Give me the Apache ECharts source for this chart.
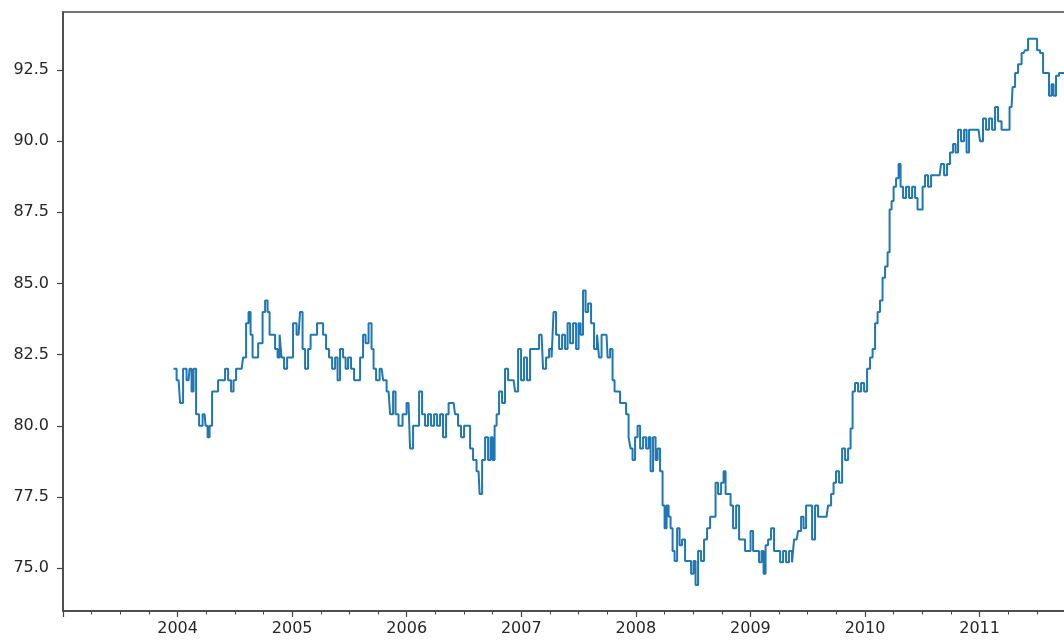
<!DOCTYPE html>
<html>
<head>
<meta charset="utf-8">
<script src="https://cdn.jsdelivr.net/npm/echarts@6/dist/echarts.min.js"></script>
<style>
  html, body { margin: 0; padding: 0; background: #fff; }
  #main { width: 1064px; height: 640px; }
</style>
</head>
<body>
<div id="main"></div>
<script>
// decimal year of each reading
var years = [
  2003.965, 2003.974, 2004.009, 2004.035, 2004.061, 2004.096, 2004.113, 2004.131, 2004.148, 2004.175,
  2004.201, 2004.236, 2004.253, 2004.271, 2004.288, 2004.314, 2004.340, 2004.367, 2004.401, 2004.428,
  2004.454, 2004.480, 2004.497, 2004.524, 2004.559, 2004.585, 2004.611, 2004.628, 2004.646, 2004.663,
  2004.690, 2004.716, 2004.733, 2004.751, 2004.777, 2004.794, 2004.812, 2004.838, 2004.864, 2004.882,
  2004.899, 2004.916, 2004.943, 2004.969, 2004.995, 2005.021, 2005.056, 2005.082, 2005.100, 2005.126,
  2005.152, 2005.170, 2005.204, 2005.231, 2005.257, 2005.283, 2005.309, 2005.335, 2005.362, 2005.388,
  2005.405, 2005.431, 2005.458, 2005.475, 2005.501, 2005.527, 2005.554, 2005.580, 2005.606, 2005.632,
  2005.650, 2005.684, 2005.702, 2005.719, 2005.746, 2005.781, 2005.807, 2005.842, 2005.868, 2005.894,
  2005.911, 2005.946, 2005.981, 2006.016, 2006.042, 2006.069, 2006.095, 2006.121, 2006.147, 2006.173,
  2006.199, 2006.226, 2006.252, 2006.278, 2006.304, 2006.330, 2006.357, 2006.374, 2006.409, 2006.435,
  2006.461, 2006.487, 2006.514, 2006.540, 2006.566, 2006.592, 2006.627, 2006.645, 2006.671, 2006.697,
  2006.723, 2006.741, 2006.758, 2006.776, 2006.793, 2006.819, 2006.845, 2006.871, 2006.898, 2006.933,
  2006.959, 2006.985, 2007.011, 2007.037, 2007.063, 2007.090, 2007.133, 2007.177, 2007.203, 2007.229,
  2007.256, 2007.273, 2007.290, 2007.317, 2007.343, 2007.369, 2007.395, 2007.413, 2007.439, 2007.465,
  2007.491, 2007.509, 2007.526, 2007.552, 2007.570, 2007.596, 2007.622, 2007.648, 2007.674, 2007.683,
  2007.718, 2007.744, 2007.762, 2007.788, 2007.805, 2007.823, 2007.849, 2007.875, 2007.901, 2007.928,
  2007.945, 2007.962, 2007.980, 2008.006, 2008.024, 2008.050, 2008.076, 2008.102, 2008.120, 2008.137,
  2008.163, 2008.181, 2008.198, 2008.224, 2008.242, 2008.259, 2008.277, 2008.294, 2008.312, 2008.329,
  2008.347, 2008.373, 2008.390, 2008.416, 2008.443, 2008.469, 2008.495, 2008.512, 2008.530, 2008.556,
  2008.582, 2008.608, 2008.635, 2008.661, 2008.687, 2008.704, 2008.731, 2008.757, 2008.774, 2008.792,
  2008.818, 2008.835, 2008.862, 2008.888, 2008.914, 2008.940, 2008.966, 2008.992, 2009.010, 2009.036,
  2009.062, 2009.088, 2009.106, 2009.123, 2009.141, 2009.167, 2009.193, 2009.219, 2009.246, 2009.272,
  2009.298, 2009.324, 2009.350, 2009.376, 2009.385, 2009.403, 2009.429, 2009.455, 2009.472, 2009.499,
  2009.525, 2009.551, 2009.577, 2009.603, 2009.638, 2009.664, 2009.691, 2009.717, 2009.734, 2009.760,
  2009.787, 2009.813, 2009.839, 2009.865, 2009.883, 2009.900, 2009.926, 2009.953, 2009.979, 2010.005,
  2010.031, 2010.057, 2010.075, 2010.101, 2010.118, 2010.144, 2010.162, 2010.188, 2010.206, 2010.223,
  2010.241, 2010.258, 2010.284, 2010.302, 2010.319, 2010.345, 2010.371, 2010.398, 2010.424, 2010.450,
  2010.467, 2010.494, 2010.511, 2010.537, 2010.563, 2010.590, 2010.625, 2010.651, 2010.677, 2010.703,
  2010.729, 2010.755, 2010.782, 2010.799, 2010.825, 2010.851, 2010.878, 2010.895, 2010.921, 2010.956,
  2010.991, 2011.017, 2011.043, 2011.070, 2011.096, 2011.122, 2011.148, 2011.174, 2011.209, 2011.244,
  2011.279, 2011.297, 2011.323, 2011.349, 2011.384, 2011.410, 2011.436, 2011.462, 2011.489, 2011.515,
  2011.541, 2011.567, 2011.593, 2011.619, 2011.637, 2011.654, 2011.680, 2011.707, 2011.733, 2011.760,
  2011.790
];

// index value
var values = [
  82.0, 82.0, 81.6, 80.8, 82.0, 81.6, 82.0, 81.2, 82.0, 80.4,
  80.0, 80.4, 80.0, 79.6, 80.0, 81.2, 81.2, 81.6, 81.6, 82.0,
  81.6, 81.2, 81.6, 82.0, 82.0, 82.4, 83.6, 84.0, 83.2, 82.4,
  82.4, 82.9, 82.9, 84.0, 84.4, 84.0, 83.2, 83.2, 82.7, 82.4,
  83.2, 82.4, 82.0, 82.4, 82.4, 83.6, 83.2, 84.0, 82.7, 82.0,
  82.7, 83.2, 83.2, 83.6, 83.6, 83.2, 82.7, 82.4, 82.0, 82.4,
  81.6, 82.7, 82.4, 82.0, 82.4, 82.0, 81.6, 81.6, 82.4, 83.2,
  82.9, 83.6, 82.7, 82.0, 81.6, 82.0, 81.6, 81.2, 80.4, 81.2,
  80.4, 80.0, 80.4, 80.8, 79.2, 80.0, 80.0, 81.2, 80.4, 80.0,
  80.4, 80.0, 80.4, 80.0, 80.4, 79.6, 80.4, 80.8, 80.8, 80.4,
  80.0, 79.6, 80.0, 80.0, 79.2, 78.8, 78.4, 77.6, 78.8, 79.6,
  78.8, 79.6, 78.8, 80.0, 80.4, 81.2, 80.8, 82.0, 81.6, 81.6,
  81.2, 82.7, 81.6, 82.4, 81.6, 82.7, 82.7, 83.2, 82.0, 82.4,
  82.7, 82.4, 84.0, 83.2, 82.7, 83.2, 82.7, 83.6, 82.9, 83.6,
  82.7, 83.6, 83.2, 84.75, 84.0, 84.3, 83.6, 82.7, 83.2, 82.4,
  83.2, 83.2, 82.4, 82.7, 81.6, 81.2, 81.2, 80.8, 80.8, 80.4,
  79.6, 79.2, 78.8, 79.6, 80.0, 79.2, 79.6, 79.2, 79.6, 78.4,
  79.6, 78.8, 79.2, 78.4, 77.2, 76.4, 77.2, 76.8, 76.4, 75.6,
  75.25, 76.4, 75.8, 76.0, 75.25, 75.25, 74.8, 75.25, 74.4, 75.6,
  75.25, 76.0, 76.4, 76.8, 76.8, 78.0, 77.6, 78.0, 78.4, 77.6,
  77.6, 77.2, 76.4, 77.2, 76.0, 76.0, 75.6, 75.6, 76.3, 75.6,
  75.6, 75.2, 75.6, 74.8, 75.8, 76.0, 76.4, 75.6, 75.6, 75.2,
  75.6, 75.2, 75.6, 75.2, 76.0, 76.0, 76.3, 76.8, 76.4, 77.2,
  77.2, 76.0, 77.2, 76.8, 76.8, 76.8, 77.2, 77.6, 78.0, 78.4,
  78.0, 79.2, 78.8, 79.2, 79.9, 81.2, 81.5, 81.2, 81.5, 81.2,
  82.0, 82.4, 82.7, 83.6, 84.0, 84.4, 85.2, 85.6, 86.1, 87.6,
  87.9, 88.4, 88.7, 89.2, 88.4, 88.0, 88.4, 88.0, 88.4, 88.0,
  87.6, 87.6, 88.4, 88.8, 88.4, 88.8, 88.8, 88.8, 89.2, 88.8,
  89.2, 89.6, 89.9, 89.6, 90.4, 90.0, 90.4, 89.6, 90.4, 90.4,
  90.4, 90.0, 90.8, 90.4, 90.8, 90.4, 91.2, 90.7, 90.4, 90.4,
  91.2, 91.9, 92.4, 92.7, 93.1, 93.2, 93.6, 93.6, 93.6, 93.2,
  93.1, 92.4, 92.4, 91.6, 92.0, 91.6, 92.3, 92.4, 92.4, 92.8,
  92.8
];

var yTicks = [75.0, 77.5, 80.0, 82.5, 85.0, 87.5, 90.0, 92.5];

var points = [];
for (var i = 0; i < years.length; i++) {
  points.push([years[i], values[i]]);
}

var axisColor = '#444';
var labelStyle = { color: '#262626', fontSize: 16, fontFamily: 'DejaVu Sans' };

var chart = echarts.init(document.getElementById('main'), null, { renderer: 'canvas' });

var option = {
  animation: false,
  backgroundColor: '#fff',
  grid: {
    left: 63, top: 12, bottom: 29, right: -10,
    outerBoundsMode: 'none',
    containLabel: false,
    show: true, borderColor: axisColor, borderWidth: 1.5
  },
  xAxis: {
    type: 'value',
    min: 2003,
    max: 2011.824,
    interval: 1,
    axisLine: { show: true, onZero: false, lineStyle: { color: axisColor, width: 1.5 } },
    axisTick: { show: true, length: 6, lineStyle: { color: axisColor, width: 1.2 } },
    minorTick: { show: true, splitNumber: 4, length: 3.5, lineStyle: { color: axisColor, width: 1 } },
    splitLine: { show: false },
    axisLabel: Object.assign({
      margin: 10,
      showMaxLabel: false,
      formatter: function (v) {
        return (v === 2003 || v % 1 !== 0) ? '' : String(v);
      }
    }, labelStyle)
  },
  yAxis: {
    type: 'value',
    min: 73.49,
    max: 94.54,
    axisLine: { show: true, onZero: false, lineStyle: { color: axisColor, width: 1.5 } },
    axisTick: { show: true, length: 6, customValues: yTicks, lineStyle: { color: axisColor, width: 1.2 } },
    splitLine: { show: false },
    axisLabel: Object.assign({
      margin: 14,
      customValues: yTicks,
      formatter: function (v) { return v.toFixed(1); }
    }, labelStyle)
  },
  series: [{
    type: 'line',
    data: points,
    step: 'middle',
    showSymbol: false,
    clip: true,
    lineStyle: { color: '#1f77b4', width: 2 }
  }]
};

chart.setOption(option);
</script>
</body>
</html>
